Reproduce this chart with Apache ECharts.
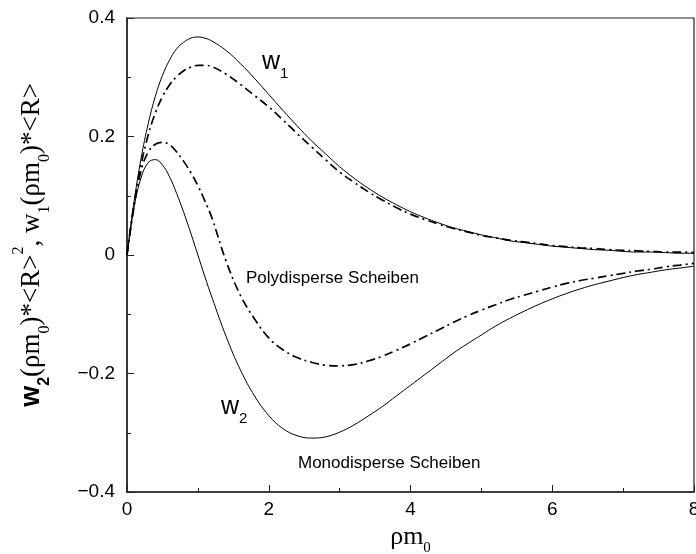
<!DOCTYPE html>
<html>
<head>
<meta charset="utf-8">
<script src="https://cdn.jsdelivr.net/npm/echarts@6/dist/echarts.min.js"></script>
<style>html,body{margin:0;padding:0;background:#fff}#c{width:696px;height:554px}</style>
</head>
<body>
<div id="c"></div>
<script>
var xs     = [0, 0.1, 0.2, 0.3, 0.4, 0.5, 0.6, 0.7, 0.8, 0.9, 1.0, 1.1, 1.2, 1.4, 1.6, 1.8, 2.0, 2.2, 2.4, 2.6, 2.8, 3.0, 3.2, 3.4, 3.6, 3.8, 4.0,
              4.2, 4.4, 4.6, 4.8, 5.0, 5.2, 5.4, 5.6, 5.8, 6.0, 6.2, 6.4, 6.6, 6.8, 7.0, 7.2, 7.4, 7.6, 7.8, 8.0];
var w1Mono = [0, 0.090, 0.164, 0.222, 0.268, 0.303, 0.329, 0.348, 0.359, 0.366, 0.368, 0.366, 0.361, 0.345, 0.323, 0.298, 0.271, 0.244, 0.218, 0.193, 0.171, 0.149, 0.130, 0.113, 0.098, 0.085, 0.073,
              0.063, 0.054, 0.046, 0.040, 0.034, 0.029, 0.024, 0.021, 0.018, 0.015, 0.013, 0.011, 0.009, 0.008, 0.006, 0.005, 0.005, 0.004, 0.003, 0.003];
var w1Poly = [0, 0.087, 0.153, 0.203, 0.240, 0.267, 0.287, 0.301, 0.311, 0.317, 0.320, 0.320, 0.318, 0.305, 0.288, 0.269, 0.250, 0.228, 0.205, 0.183, 0.161, 0.140, 0.123, 0.107, 0.093, 0.080, 0.069,
              0.060, 0.052, 0.045, 0.039, 0.033, 0.029, 0.025, 0.022, 0.019, 0.016, 0.014, 0.012, 0.011, 0.009, 0.008, 0.007, 0.006, 0.005, 0.005, 0.004];
var w2Mono = [0, 0.081, 0.131, 0.156, 0.161, 0.152, 0.132, 0.104, 0.072, 0.037, 0.000, -0.037, -0.072, -0.138, -0.194, -0.238, -0.271, -0.293, -0.305, -0.309, -0.307, -0.299, -0.287, -0.272, -0.256, -0.238, -0.220,
              -0.202, -0.184, -0.166, -0.150, -0.135, -0.120, -0.107, -0.095, -0.084, -0.074, -0.065, -0.057, -0.050, -0.044, -0.038, -0.033, -0.029, -0.025, -0.022, -0.019];
var w2Poly = [0, 0.082, 0.143, 0.174, 0.187, 0.190, 0.186, 0.174, 0.158, 0.139, 0.117, 0.091, 0.062, -0.011, -0.068, -0.108, -0.140, -0.160, -0.173, -0.181, -0.186, -0.187, -0.185, -0.179, -0.171, -0.161, -0.150,
              -0.138, -0.126, -0.114, -0.103, -0.093, -0.084, -0.075, -0.068, -0.061, -0.054, -0.048, -0.043, -0.039, -0.035, -0.031, -0.027, -0.024, -0.020, -0.017, -0.014];
var xTicks = [0, 2, 4, 6, 8];
var yTicks = [-0.4, -0.2, 0, 0.2, 0.4];

function pairs(ys) { return xs.map(function (x, i) { return [x, ys[i]]; }); }

var chart = echarts.init(document.getElementById('c'), null, {renderer: 'canvas'});
var sans = 'Liberation Sans, Arial, Helvetica, sans-serif';
var serif = 'Liberation Serif, Times New Roman, serif';
var dashDot = [9, 4, 2, 4];

chart.setOption({
  animation: false,
  backgroundColor: '#fff',
  grid: {left: 127, top: 18, right: 2, bottom: 62, containLabel: false, outerBoundsMode: 'none',
         show: true, borderColor: '#222', borderWidth: 1.2, backgroundColor: 'transparent'},
  xAxis: {
    type: 'value', min: xTicks[0], max: xTicks[xTicks.length - 1], interval: 2,
    axisLine: {onZero: false, lineStyle: {color: '#222', width: 1.5}},
    axisTick: {inside: true, length: 7, lineStyle: {color: '#222'}},
    minorTick: {show: true, splitNumber: 2, length: 4, lineStyle: {color: '#222'}},
    splitLine: {show: false},
    axisLabel: {color: '#000', fontFamily: sans, fontSize: 19, margin: 8},
    name: '{t|ρm}{s|0}', nameLocation: 'middle', nameGap: 25,
    nameTextStyle: {
      rich: {
        t: {fontFamily: serif, fontSize: 26, color: '#000', lineHeight: 34, verticalAlign: 'middle'},
        s: {fontFamily: serif, fontSize: 15, color: '#000', lineHeight: 38, verticalAlign: 'bottom'}
      }
    }
  },
  yAxis: {
    type: 'value', min: yTicks[0], max: yTicks[yTicks.length - 1], interval: 0.2,
    axisLine: {onZero: false, lineStyle: {color: '#222', width: 1.5}},
    axisTick: {inside: true, length: 7, lineStyle: {color: '#222'}},
    minorTick: {show: true, splitNumber: 2, length: 4, lineStyle: {color: '#222'}},
    splitLine: {show: false},
    axisLabel: {
      color: '#000', fontFamily: sans, fontSize: 19, margin: 12,
      formatter: function (v) { return Math.abs(v) < 1e-9 ? '0' : v.toFixed(1).replace('-', '\u2212'); }
    },
    name: '{b|w}{bs|2}{t|(ρm}{ts|0}{t|)*<R>}{tp|2}{t|, w}{ts|1}{t|(ρm}{ts|0}{t|)*<R>}',
    nameLocation: 'middle', nameGap: 74, nameRotate: 90,
    nameTextStyle: {
      padding: [0, 0, 0, 20],
      rich: {
        b: {fontFamily: sans, fontWeight: 'bold', fontSize: 27, color: '#000', lineHeight: 36, verticalAlign: 'middle'},
        bs: {fontFamily: sans, fontWeight: 'bold', fontSize: 16, color: '#000', lineHeight: 42, verticalAlign: 'bottom'},
        t: {fontFamily: serif, fontSize: 27, color: '#000', lineHeight: 36, verticalAlign: 'middle'},
        ts: {fontFamily: serif, fontSize: 16, color: '#000', lineHeight: 42, verticalAlign: 'bottom'},
        tp: {fontFamily: serif, fontSize: 16, color: '#000', lineHeight: 42, verticalAlign: 'top'}
      }
    }
  },
  series: [
    {name: 'w1 mono', type: 'line', data: pairs(w1Mono), smooth: 0.4, symbol: 'none', lineStyle: {color: '#000', width: 1}},
    {name: 'w1 poly', type: 'line', data: pairs(w1Poly), smooth: 0.4, symbol: 'none', lineStyle: {color: '#000', width: 1.7, type: dashDot}},
    {name: 'w2 mono', type: 'line', data: pairs(w2Mono), smooth: 0.4, symbol: 'none', lineStyle: {color: '#000', width: 1}},
    {name: 'w2 poly', type: 'line', data: pairs(w2Poly), smooth: 0.4, symbol: 'none', lineStyle: {color: '#000', width: 1.7, type: dashDot}}
  ],
  graphic: [
    {type: 'text', left: 262, top: 50, style: {text: '{a|w}{b|1}', rich: {a: {fontFamily: sans, fontSize: 25, fill: '#000', lineHeight: 30, verticalAlign: 'middle'}, b: {fontFamily: sans, fontSize: 15, fill: '#000', lineHeight: 38, verticalAlign: 'bottom'}}}},
    {type: 'text', left: 221, top: 395, style: {text: '{a|w}{b|2}', rich: {a: {fontFamily: sans, fontSize: 25, fill: '#000', lineHeight: 30, verticalAlign: 'middle'}, b: {fontFamily: sans, fontSize: 15, fill: '#000', lineHeight: 38, verticalAlign: 'bottom'}}}},
    {type: 'text', left: 246, top: 270, style: {text: 'Polydisperse Scheiben', font: '17px ' + sans, fill: '#000'}},
    {type: 'text', left: 298, top: 455, style: {text: 'Monodisperse Scheiben', font: '17px ' + sans, fill: '#000'}}
  ]
});
</script>
</body>
</html>
